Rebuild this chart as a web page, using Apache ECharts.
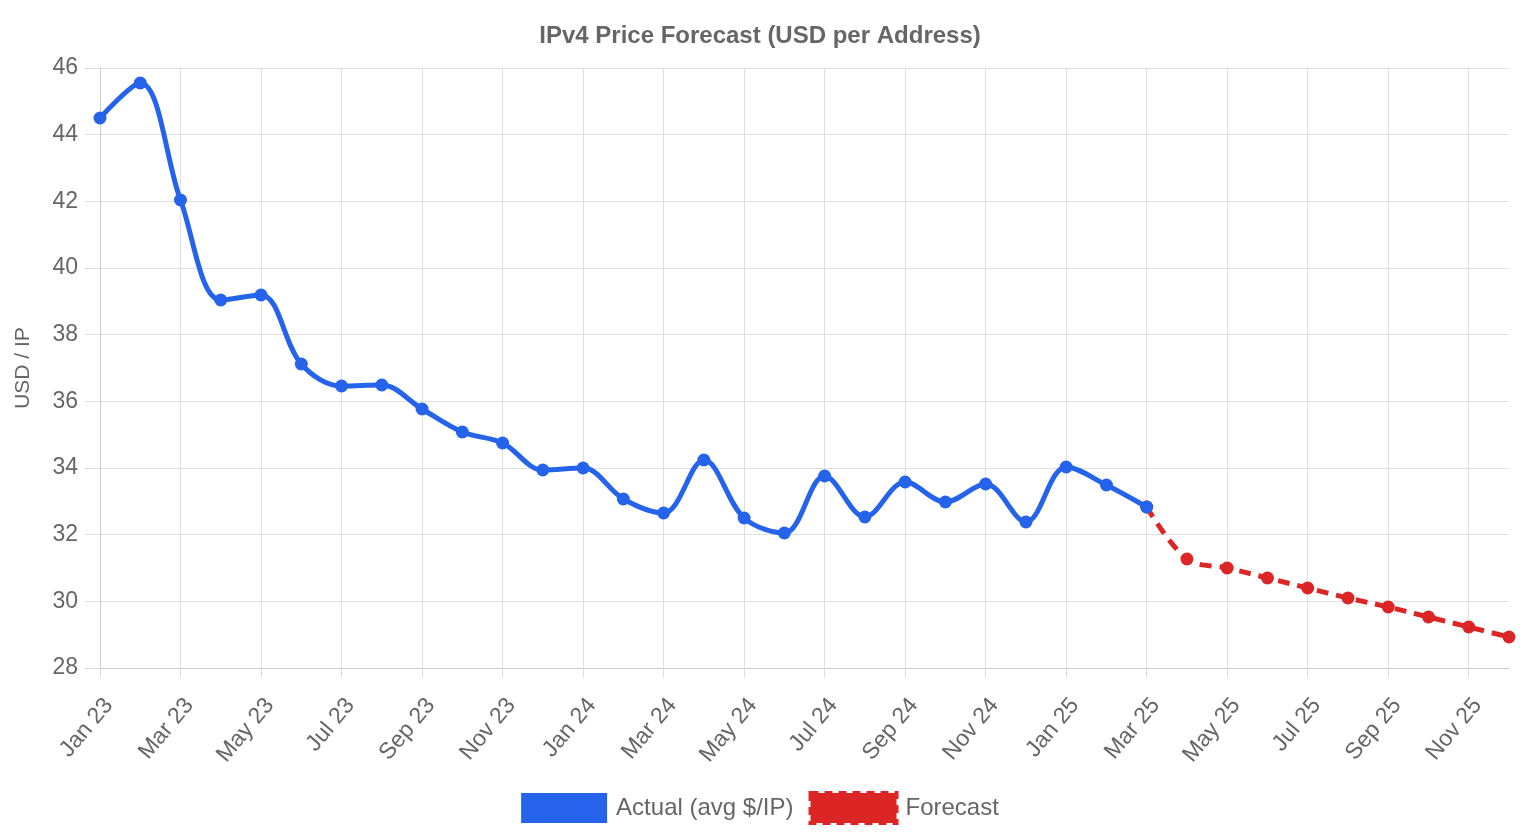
<!DOCTYPE html>
<html>
<head>
<meta charset="utf-8">
<script src="https://cdn.jsdelivr.net/npm/echarts@6/dist/echarts.min.js"></script>
<style>html,body{margin:0;padding:0;background:#fff}#c{width:1520px;height:840px}</style>
</head>
<body>
<div id="c"></div>
<script>
const months = ["Jan 23","Feb 23","Mar 23","Apr 23","May 23","Jun 23","Jul 23","Aug 23","Sep 23","Oct 23","Nov 23","Dec 23",
"Jan 24","Feb 24","Mar 24","Apr 24","May 24","Jun 24","Jul 24","Aug 24","Sep 24","Oct 24","Nov 24","Dec 24",
"Jan 25","Feb 25","Mar 25","Apr 25","May 25","Jun 25","Jul 25","Aug 25","Sep 25","Oct 25","Nov 25","Dec 25"];
const actual = [44.5,45.55,42.04,39.04,39.19,37.12,36.46,36.49,35.77,35.08,34.75,33.94,
34.0,33.07,32.65,34.24,32.5,32.05,33.76,32.53,33.58,32.98,33.52,32.38,
34.03,33.49,32.83,null,null,null,null,null,null,null,null,null];
const forecast = [null,null,null,null,null,null,null,null,null,null,null,null,
null,null,null,null,null,null,null,null,null,null,null,null,
null,null,32.83,31.27,31.0,30.7,30.4,30.1,29.83,29.53,29.23,28.93];
const yTicks = {min:28, max:46, step:2};

const FONT = '"Liberation Sans", Arial, sans-serif';
const chart = echarts.init(document.getElementById('c'));
chart.setOption({
  animation:false,
  textStyle:{fontFamily:FONT},
  title:{text:'IPv4 Price Forecast (USD per Address)', left:'center', top:19,
    textStyle:{fontFamily:FONT, fontSize:24, fontWeight:'bold', color:'#666'}},
  legend:{bottom:10, left:'center', itemWidth:86, itemHeight:30, itemGap:15,
    textStyle:{fontFamily:FONT, fontSize:24, color:'#666', padding:[0,0,0,4]},
    data:[{name:'Actual (avg $/IP)', icon:'rect', itemStyle:{color:'#2563eb', borderWidth:0}},
          {name:'Forecast', icon:'rect', itemStyle:{color:'#dc2626', borderColor:'#dc2626', borderWidth:4, borderType:[8,6]}}]},
  grid:{left:100, right:11, top:68, bottom:172},
  xAxis:{type:'category', data:months, boundaryGap:false,
    axisLine:{lineStyle:{color:'#ccc'}},
    axisTick:{show:true, interval:1, length:10, lineStyle:{color:'#ddd'}},
    splitLine:{show:true, interval:1, lineStyle:{color:'#e0e0e0'}},
    axisLabel:{interval:1, rotate:50, fontSize:23, color:'#666', fontFamily:FONT, margin:26, verticalAlign:'top'}},
  yAxis:{type:'value', min:yTicks.min, max:yTicks.max, interval:yTicks.step,
    name:'USD / IP', nameLocation:'middle', nameGap:66, nameRotate:90,
    nameTextStyle:{fontSize:21, color:'#666', fontFamily:FONT},
    axisLine:{show:true, lineStyle:{color:'#ccc'}},
    axisTick:{show:true, length:15, lineStyle:{color:'#ddd'}},
    splitLine:{lineStyle:{color:'#e0e0e0'}},
    axisLabel:{fontSize:23, color:'#666', fontFamily:FONT, margin:22}},
  series:[
    {name:'Forecast', type:'line', data:forecast, smooth:0.35, symbol:'circle', symbolSize:13, z:2,
     lineStyle:{color:'#dc2626', width:5, type:[12,8]}, itemStyle:{color:'#dc2626'}},
    {name:'Actual (avg $/IP)', type:'line', data:actual, smooth:0.35, symbol:'circle', symbolSize:13, z:3,
     lineStyle:{color:'#2563eb', width:5}, itemStyle:{color:'#2563eb'}}
  ]
});
</script>
</body>
</html>
